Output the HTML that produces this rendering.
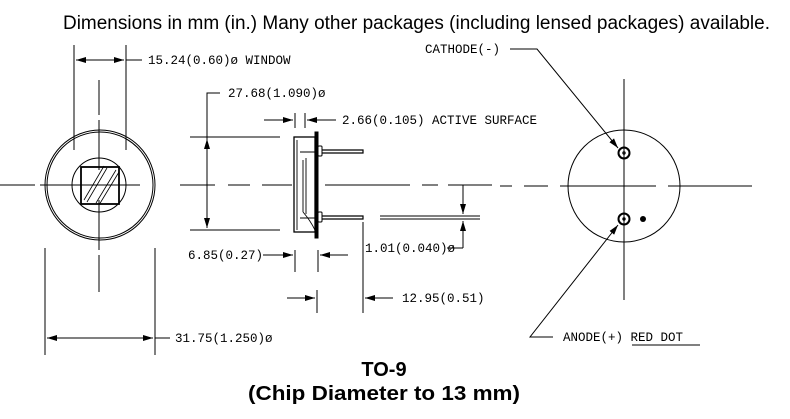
<!DOCTYPE html>
<html><head><meta charset="utf-8"><style>
html,body{margin:0;padding:0;background:#fff;width:790px;height:419px;overflow:hidden}
svg{display:block}
.m{font-family:"Liberation Mono",monospace;font-size:12.5px;fill:#000}
.s{font-family:"Liberation Sans",Arial,sans-serif;fill:#000}
</style></head><body>
<svg width="790" height="419" viewBox="0 0 790 419" xmlns="http://www.w3.org/2000/svg">
<defs>
<marker id="a" viewBox="0 0 10 6" refX="10" refY="3" markerWidth="10" markerHeight="6" orient="auto" markerUnits="userSpaceOnUse"><path d="M0,0 L10,3 L0,6z" fill="#000"/></marker>
</defs>
<text class="s" x="63" y="29" font-size="19" textLength="707" lengthAdjust="spacingAndGlyphs">Dimensions in mm (in.) Many other packages (including lensed packages) available.</text>
<g stroke="#000" fill="none" stroke-width="1">
<circle cx="100" cy="185" r="55"/><circle cx="100" cy="185" r="53"/>
<circle cx="99" cy="185" r="27"/>
<rect x="81" y="167" width="38" height="37" stroke-width="1.8"/>
<path d="M84,200 L104,166 M87,202 L107,168 M96,203 L116,170 M99,205 L119,172" stroke-width="0.8"/>
<path d="M99,80 V115 M99,120 V170 M99,200 V250 M99,255 V292"/>
<path d="M0,185 H35 M40,185 H140"/>
<path d="M74,45 V150 M126,45 V150"/>
<path d="M99,60 H76" marker-end="url(#a)"/><path d="M99,60 H124" marker-end="url(#a)"/>
<path d="M126,60 H142"/>
<path d="M45,248 V355 M155,248 V355"/>
<path d="M100,338 H47" marker-end="url(#a)"/><path d="M100,338 H153" marker-end="url(#a)"/>
<path d="M155,338 H170"/>
<path d="M190,137 H280 M190,230 H280"/>
<path d="M207,185 V139" marker-end="url(#a)"/><path d="M207,185 V228" marker-end="url(#a)"/>
<path d="M207,139 V93 H220"/>
<path d="M180,185 H215 M228,185 H250 M262,185 H292 M325,185 H410 M422,185 H438 M448,185 H492"/>
<path d="M295,113 V128 M305,113 V128"/>
<path d="M264,120 H293" marker-end="url(#a)"/><path d="M336,120 H307" marker-end="url(#a)"/>
<rect x="294" y="137" width="21" height="95" stroke-width="1.3"/>
<rect x="315" y="132" width="3" height="106" fill="#000"/>
<path d="M297,140 V230 M300,152 H315 M300,218 H315 M303,160 V212 M306,158 V214" stroke-width="0.9"/>
<path d="M303,212 Q310,220 315,230" stroke-width="0.9"/>
<rect x="318" y="146" width="4" height="10" rx="1"/><rect x="318" y="212" width="4" height="10" rx="1"/>
<path d="M322,150 H363 V153 H322 M322,216 H363 V219 H322" stroke-width="1.2"/>
<path d="M380,216 H480 M380,219 H480"/>
<path d="M463,185 V214" marker-end="url(#a)"/><path d="M463,248 V221" marker-end="url(#a)"/>
<path d="M463,248 H447"/>
<path d="M295,250 V272 M318,250 V272"/>
<path d="M263,255 H293" marker-end="url(#a)"/><path d="M348,255 H320" marker-end="url(#a)"/>
<path d="M317,290 V313 M363,222 V313"/>
<path d="M287,298 H315" marker-end="url(#a)"/><path d="M393,298 H365" marker-end="url(#a)"/>
<circle cx="624" cy="186" r="56"/>
<path d="M624,79 V300"/>
<path d="M500,186 H512 M524,186 H548 M560,186 H656 M668,186 H752"/>
<circle cx="624" cy="153" r="5.5" stroke-width="2"/><circle cx="624" cy="153" r="1.2"/>
<circle cx="624" cy="219" r="5.5" stroke-width="2"/><circle cx="624" cy="219" r="1.2" fill="#000"/>
<circle cx="643" cy="219" r="3" fill="#000" stroke="none"/>
<path d="M510,49 H537 L618,148" marker-end="url(#a)"/>
<path d="M553,337 H530 L618,225" marker-end="url(#a)"/>
<path d="M632,345 H700"/>
</g>
<text class="m" x="148" y="64">15.24(0.60)ø WINDOW</text>
<text class="m" x="228" y="97">27.68(1.090)ø</text>
<text class="m" x="342" y="124">2.66(0.105) ACTIVE SURFACE</text>
<text class="m" x="188" y="259">6.85(0.27)</text>
<text class="m" x="365" y="252">1.01(0.040)ø</text>
<text class="m" x="402" y="302">12.95(0.51)</text>
<text class="m" x="175" y="342">31.75(1.250)ø</text>
<text class="m" x="425" y="53">CATHODE(-)</text>
<text class="m" x="563" y="341">ANODE(+) RED DOT</text>
<text class="s" x="384" y="376" font-size="20" font-weight="bold" text-anchor="middle">TO-9</text>
<text class="s" x="384" y="400" font-size="20" font-weight="bold" text-anchor="middle" textLength="272" lengthAdjust="spacingAndGlyphs">(Chip Diameter to 13 mm)</text>
</svg>
</body></html>
